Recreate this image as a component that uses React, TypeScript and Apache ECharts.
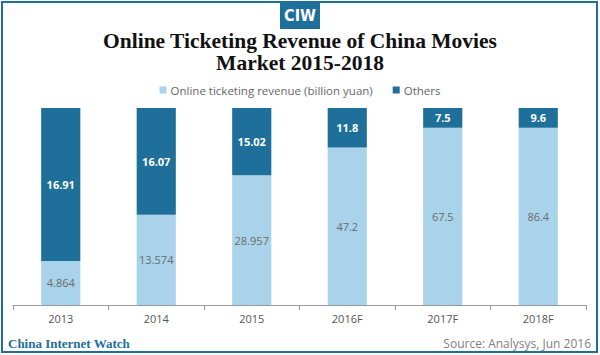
import React, { useEffect, useRef } from "react";
import * as echarts from "echarts";

const categories = ["2013", "2014", "2015", "2016F", "2017F", "2018F"];
const onlineValues = [4.864, 13.574, 28.957, 47.2, 67.5, 86.4];
const othersValues = [16.91, 16.07, 15.02, 11.8, 7.5, 9.6];
const seriesNames = ["Online ticketing revenue (billion yuan)", "Others"];

const LIGHT = "#a9d3ea";
const DARK = "#1e6f99";

export default function App() {
  const ref = useRef<HTMLDivElement>(null);
  useEffect(() => {
    if (!ref.current) return;
    const chart = echarts.init(ref.current, undefined, { renderer: "svg" });
    const totals = onlineValues.map((v, i) => v + othersValues[i]);
    const pctOnline = onlineValues.map((v, i) => ({ value: (v / totals[i]) * 100, raw: v }));
    const pctOthers = othersValues.map((v, i) => ({ value: (v / totals[i]) * 100, raw: v }));
    chart.setOption({
      animation: false,
      backgroundColor: "#ffffff",
      title: {
        text: "Online Ticketing Revenue of China Movies\nMarket 2015-2018",
        left: "center",
        top: 30,
        padding: 0,
        textStyle: {
          fontFamily: "Liberation Serif",
          fontWeight: "bold",
          fontSize: 21.5,
          lineHeight: 22,
          color: "#111111",
        },
      },
      legend: {
        top: 79,
        left: "center",
        itemWidth: 7,
        itemHeight: 7,
        itemGap: 20,
        icon: "rect",
        textStyle: { fontFamily: "Open Sans", fontSize: 11.5, color: "#666666", padding: [0, 0, 0, -1] },
        data: seriesNames,
      },
      grid: { left: 13, right: 14, top: 108, bottom: 50, containLabel: false },
      xAxis: {
        type: "category",
        data: categories,
        axisLine: { lineStyle: { color: "#999999" } },
        axisTick: { show: true, lineStyle: { color: "#999999" } },
        axisLabel: { fontFamily: "Open Sans", fontSize: 11, color: "#555555", margin: 8 },
      },
      yAxis: {
        type: "value",
        min: 0,
        max: 100,
        show: false,
        splitLine: { show: false },
      },
      series: [
        {
          name: seriesNames[0],
          type: "bar",
          stack: "total",
          barWidth: "41%",
          data: pctOnline,
          itemStyle: { color: LIGHT },
          label: {
            show: true,
            position: "inside",
            formatter: (p: any) => String(p.data.raw),
            fontFamily: "Open Sans",
            fontSize: 11,
            color: "#6b6b6b",
          },
        },
        {
          name: seriesNames[1],
          type: "bar",
          stack: "total",
          data: pctOthers,
          itemStyle: { color: DARK },
          label: {
            show: true,
            position: "inside",
            formatter: (p: any) => String(p.data.raw),
            fontFamily: "Open Sans",
            fontSize: 11,
            fontWeight: "bold",
            color: "#ffffff",
          },
        },
      ],
      graphic: [
        {
          type: "rect",
          shape: { x: 2, y: 2, width: 595, height: 350 },
          style: { fill: "none", stroke: DARK, lineWidth: 2 },
          silent: true,
        },
        {
          type: "rect",
          shape: { x: 280, y: 1, width: 40, height: 28 },
          style: { fill: DARK },
        },
        {
          type: "text",
          x: 300,
          y: 15,
          style: {
            text: "CIW",
            fill: "#ffffff",
            font: "bold 16px 'Liberation Sans Narrow', 'DejaVu Sans Condensed', sans-serif",
            align: "center",
            verticalAlign: "middle",
          },
        },
        {
          type: "text",
          x: 8,
          y: 343,
          style: {
            text: "China Internet Watch",
            fill: DARK,
            font: "bold 13px 'Liberation Serif'",
            verticalAlign: "middle",
          },
        },
        {
          type: "text",
          x: 591,
          y: 343,
          style: {
            text: "Source: Analysys, Jun 2016",
            fill: "#808080",
            font: "12px 'Open Sans'",
            align: "right",
            verticalAlign: "middle",
          },
        },
      ],
    });
    return () => chart.dispose();
  }, []);
  return (
    <div
      ref={ref}
      style={{ position: "absolute", left: 0, top: 0, width: 600, height: 355 }}
    />
  );
}
